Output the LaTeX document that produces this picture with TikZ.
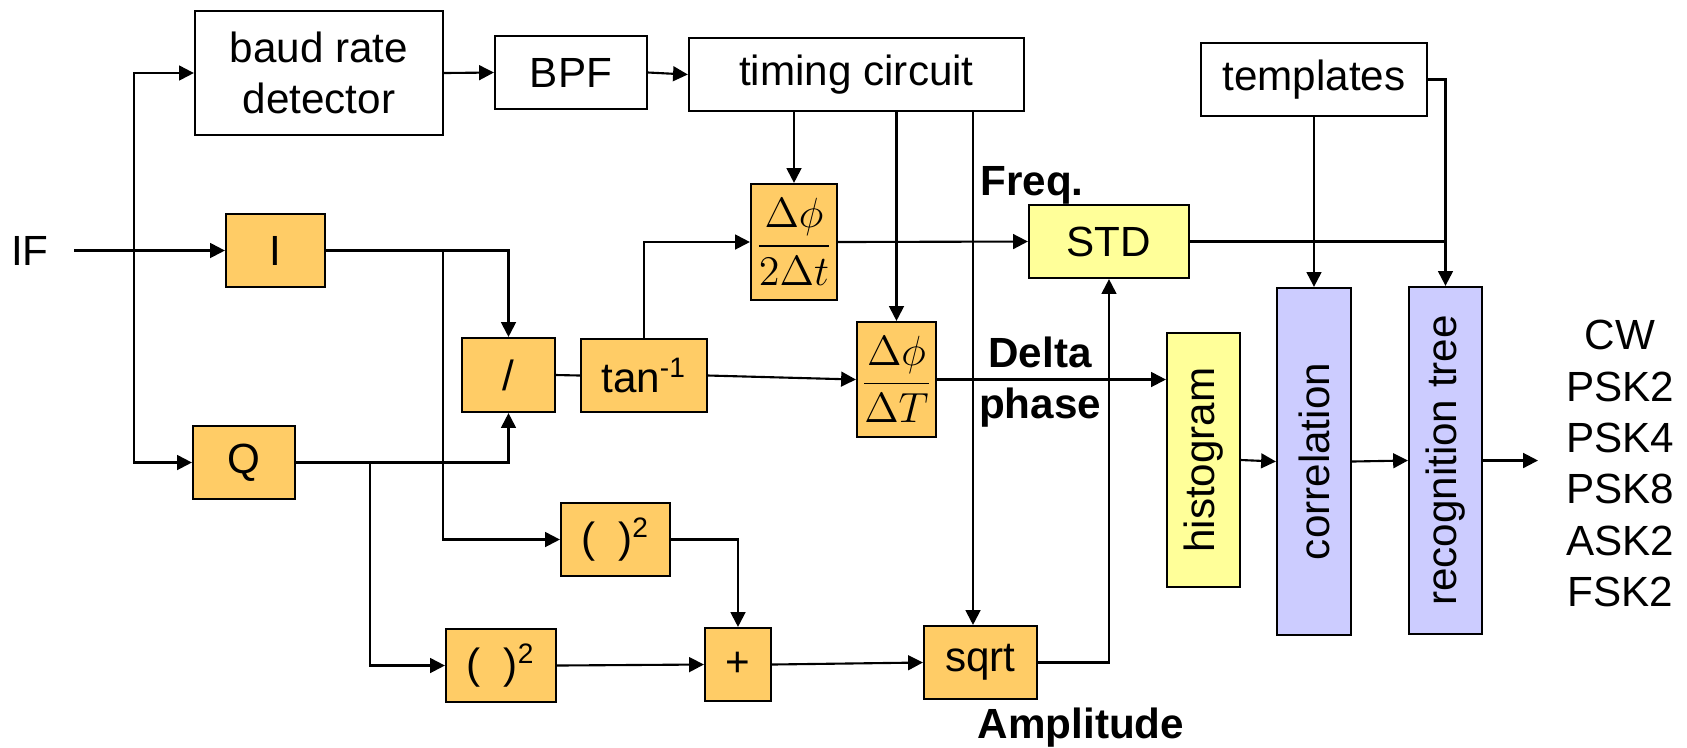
\documentclass[tikz,border=0pt]{standalone}
\usepackage{fontspec}
\setmainfont{Liberation Sans}
\usepackage{graphicx}
\usetikzlibrary{arrows.meta}
\definecolor{boxorange}{RGB}{255,204,102}
\definecolor{boxyellow}{RGB}{255,255,153}
\definecolor{boxlavender}{RGB}{204,204,255}

\begin{document}
\begin{tikzpicture}[x=0.01cm, y=-0.01cm, line width=0.6pt,
  font=\fontsize{12}{14.6}\selectfont,
  blk/.style={draw, inner sep=0pt, align=center},
  orng/.style={blk, fill=boxorange},
  ylw/.style={blk, fill=boxyellow},
  lav/.style={blk, fill=boxlavender},
  lbl/.style={font=\fontsize{12}{14.6}\selectfont\bfseries, align=center},
  arr/.style={-{Triangle[length=4.2pt,width=4.2pt]}}]
\useasboundingbox (0,0) rectangle (1687,747);

\node[blk, minimum width=2.48cm, minimum height=1.24cm] (baud) at (319,73) {baud rate\\detector};
\node[blk, minimum width=1.52cm, minimum height=0.73cm] (bpf) at (571,72.5) {BPF};
\node[blk, minimum width=3.35cm, minimum height=0.73cm] (timing) at (856.5,74.5) {timing circuit};
\node[blk, minimum width=2.26cm, minimum height=0.73cm] (templates) at (1314,79.5) {templates};

\node (IF) at (30,251) {IF};
\node[orng, minimum width=0.99cm, minimum height=0.73cm] (I) at (275.5,250.5) {I};
\node[orng, minimum width=1.02cm, minimum height=0.73cm] (Q) at (244,462.5) {Q};
\node[orng, minimum width=0.93cm, minimum height=0.74cm] (div) at (508.5,375) {/};
\node[orng, minimum width=1.26cm, minimum height=0.73cm] (atan) at (644,375.5) {tan\textsuperscript{-1}};
\node[orng, minimum width=0.86cm, minimum height=1.16cm] (dfreq) at (794,242) {$\displaystyle\frac{\Delta\phi}{2\Delta t}$};
\node[orng, minimum width=0.79cm, minimum height=1.15cm] (dphase) at (896.5,379.5) {$\displaystyle\frac{\Delta\phi}{\Delta T}$};
\node[orng, minimum width=1.09cm, minimum height=0.73cm] (sqA) at (615.5,539.5) {(\hspace{0.55em})\textsuperscript{2}};
\node[orng, minimum width=1.10cm, minimum height=0.73cm] (sqB) at (501,665.5) {(\hspace{0.55em})\textsuperscript{2}};
\node[orng, minimum width=0.66cm, minimum height=0.73cm] (plus) at (738,664.5) {+};
\node[orng, minimum width=1.13cm, minimum height=0.73cm] (sqrt) at (980.5,662.5) {sqrt};

\node[ylw, minimum width=1.60cm, minimum height=0.73cm] (std) at (1109,241.5) {STD};
\node[ylw, minimum width=0.73cm, minimum height=2.54cm] (hist) at (1203.5,460) {\rotatebox{90}{histogram}};
\node[lav, minimum width=0.74cm, minimum height=3.47cm] (corr) at (1314,461.5) {\rotatebox{90}{correlation}};
\node[lav, minimum width=0.73cm, minimum height=3.47cm] (recog) at (1445.5,460.5) {\rotatebox{90}{recognition tree}};

\node[lbl, anchor=base] (freq) at (1032,195) {Freq.};
\node[lbl] (delta) at (1040,382) {Delta\\phase};
\node[lbl, anchor=base] (ampl) at (1081,738) {Amplitude};
\node[align=center] (modes) at (1620,463.5) {CW\\PSK2\\PSK4\\PSK8\\ASK2\\FSK2};

\coordinate (ifin) at (74,250.5);
\coordinate (split) at (134,250.5);
\coordinate (ibr) at (443,250.5);
\coordinate (qbr) at (370,462.5);
\coordinate (tap) at (973,0);
\coordinate (out) at (1538,460.5);

\draw[arr] (ifin) -- (I.west);
\draw[arr] (split) |- (baud.west);
\draw[arr] (split) |- (Q.west);
\draw[arr] (baud.east) -- (bpf.west);
\draw[arr] (bpf.east) -- (timing.west);

\draw[arr] (I.east) -| (div.north);
\draw[arr] (ibr) |- (sqA.west);
\draw[arr] (Q.east) -| (div.south);
\draw[arr] (qbr) |- (sqB.west);
\draw (div.east) -- (atan.west);
\draw[arr] (atan.north) |- (dfreq.west);
\draw[arr] (atan.east) -- (dphase.west);

\draw[arr] (timing.south -| dfreq.north) -- (dfreq.north);
\draw[arr] (timing.south -| dphase.north) -- (dphase.north);
\draw[arr] (timing.south -| tap) -- (sqrt.north -| tap);

\draw[arr] (sqB.east) -- (plus.west);
\draw[arr] (sqA.east) -| (plus.north);
\draw[arr] (plus.east) -- (sqrt.west);
\draw[arr] (sqrt.east) -| (std.south);

\draw[arr] (dfreq.east) -- (std.west);
\draw[arr] (dphase.east) -- (dphase.east -| hist.west);
\draw (std.east) -- (std.east -| recog.north);
\draw[arr] (templates.east) -| (recog.north);
\draw[arr] (templates.south) -- (corr.north);
\draw[arr] (hist.east) -- (corr.west);
\draw[arr] (corr.east) -- (recog.west);
\draw[arr] (recog.east) -- (out);
\end{tikzpicture}
\end{document}
